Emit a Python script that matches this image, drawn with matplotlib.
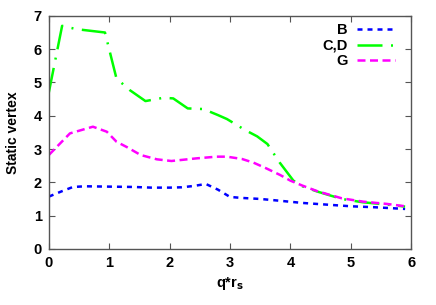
import numpy as np
import matplotlib
matplotlib.use("Agg")
import matplotlib.pyplot as plt

# series
x_b = [0.0, 0.2, 0.4, 0.6, 1.0, 1.4, 1.7, 2.0, 2.2, 2.4, 2.6, 2.8, 3.0, 3.2, 3.5, 3.8, 4.2, 4.6, 5.0, 5.4, 5.9]
y_b = [1.57, 1.72, 1.86, 1.88, 1.87, 1.86, 1.84, 1.84, 1.85, 1.89, 1.95, 1.78, 1.56, 1.53, 1.50, 1.45, 1.38, 1.33, 1.28, 1.25, 1.20]

x_cd = [0.0, 0.22, 0.46, 0.93, 1.12, 1.34, 1.6, 1.9, 2.06, 2.3, 2.56, 2.8, 2.95, 3.25, 3.45, 3.62, 3.82, 4.05, 4.2, 4.45, 4.85, 5.2, 5.55, 5.9]
y_cd = [4.70, 6.70, 6.60, 6.50, 5.12, 4.77, 4.44, 4.54, 4.52, 4.22, 4.20, 4.02, 3.90, 3.57, 3.38, 3.15, 2.60, 2.05, 1.88, 1.72, 1.50, 1.40, 1.34, 1.27]

x_g = [0.0, 0.35, 0.73, 0.96, 1.12, 1.3, 1.52, 1.79, 2.03, 2.45, 2.78, 2.95, 3.2, 3.39, 3.6, 3.83, 4.0, 4.2, 4.45, 4.85, 5.2, 5.6, 5.9]
y_g = [2.82, 3.47, 3.67, 3.52, 3.22, 3.05, 2.82, 2.69, 2.64, 2.72, 2.77, 2.77, 2.70, 2.59, 2.42, 2.22, 2.05, 1.90, 1.73, 1.52, 1.42, 1.35, 1.28]

labels = ["B", "C,D", "G"]

plt.rcParams['font.family'] = ['Liberation Sans', 'DejaVu Sans']
plt.rcParams['font.weight'] = 'bold'

fig = plt.figure(figsize=(4.36, 3.05), dpi=100)
ax = fig.add_axes([0.112, 0.184, 0.831, 0.764])

lw = 1.8
ax.plot(x_b, y_b, color='#0000ff', lw=lw, dashes=(2, 2), label=labels[0])
ax.plot(x_cd, y_cd, color='#00ff00', lw=lw, dashes=(10, 3.4, 0.8, 3.4), label=labels[1])
ax.plot(x_g, y_g, color='#ff00ff', lw=lw, dashes=(3.2, 1.8), label=labels[2])

ax.set_xlim(0, 6)
ax.set_ylim(0, 7)
ax.set_xticks(range(0, 7))
ax.set_yticks(range(0, 8))
ax.tick_params(direction='in', length=4, width=0.8, top=True, right=True,
               labelsize=10.5, color='#555555', pad=5)
for lab in ax.get_xticklabels() + ax.get_yticklabels():
    lab.set_fontweight('bold')
for s in ax.spines.values():
    s.set_color('#555555')
    s.set_linewidth(1.0)

ax.set_xlabel(r"q*r$_\mathbf{s}$", fontsize=10.5, fontweight='bold', labelpad=4)
ax.set_ylabel("Static vertex", fontsize=10, fontweight='bold', labelpad=10)

leg = ax.legend(loc='upper right', bbox_to_anchor=(0.972, 0.995), markerfirst=False,
                frameon=False, handlelength=2.6, handletextpad=0.65, labelspacing=0.12,
                borderaxespad=0, prop={'weight': 'bold', 'size': 10.5})

fig.savefig("out.png", dpi=100)
